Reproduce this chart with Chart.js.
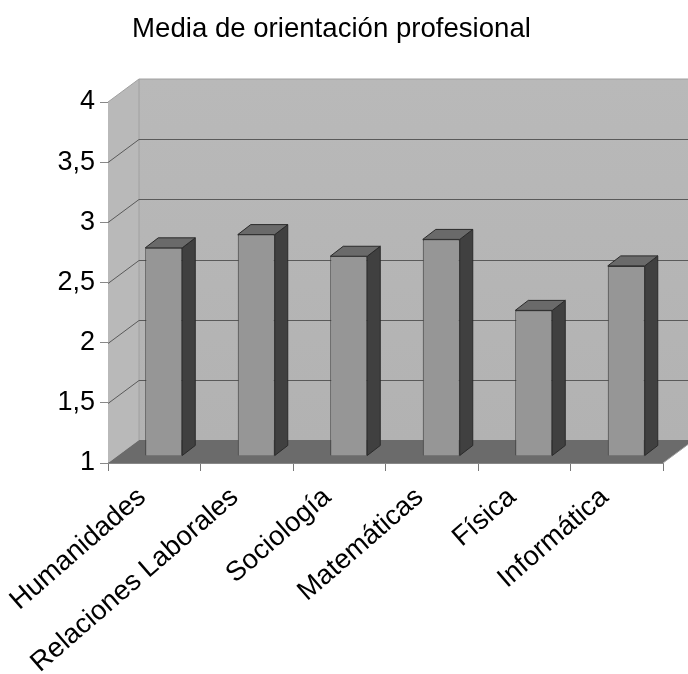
<!DOCTYPE html>
<html>
<head>
<meta charset="utf-8">
<style>html,body{margin:0;padding:0;background:#fff}canvas{display:block}</style>
<script src="https://cdn.jsdelivr.net/npm/chart.js@4"></script>
</head>
<body>
<canvas id="c" width="688" height="674"></canvas>
<script>
const titleText = "Media de orientación profesional";
const categories = ["Humanidades","Relaciones Laborales","Sociología","Matemáticas","Física","Informática"];
const values = [2.73,2.84,2.66,2.80,2.21,2.58];
const yTickLabels = {1:"1",1.5:"1,5",2:"2",2.5:"2,5",3:"3",3.5:"3,5",4:"4"};

const wallDepth = [31,-23], barShift = [9.5,-7], barDepth = [13,-10];
const poly = (ctx, pts, fill, stroke) => {
  ctx.beginPath();
  pts.forEach((p,i)=> i ? ctx.lineTo(p[0],p[1]) : ctx.moveTo(p[0],p[1]));
  ctx.closePath();
  if (fill) { ctx.fillStyle = fill; ctx.fill(); }
  if (stroke) { ctx.strokeStyle = stroke; ctx.lineWidth = 1; ctx.stroke(); }
};
const scene3d = {
  id: 'scene3d',
  beforeDatasetsDraw(chart) {
    const {ctx, chartArea:a, scales:{y}} = chart;
    const [dx,dy] = wallDepth;
    const L=a.left, R=a.right, T=a.top, B=a.bottom;
    ctx.save();
    const wallGrad = ctx.createLinearGradient(0,T+dy,0,B+dy);
    wallGrad.addColorStop(0,'#b9b9b9'); wallGrad.addColorStop(1,'#b2b2b2');
    poly(ctx, [[L+dx,T+dy],[R+dx,T+dy],[R+dx,B+dy],[L+dx,B+dy]], wallGrad);
    poly(ctx, [[L,T],[L+dx,T+dy],[L+dx,B+dy],[L,B]], '#b9b9b9');
    poly(ctx, [[L,B],[L+dx,B+dy],[R+dx,B+dy],[R,B]], '#6b6b6b');
    ctx.lineWidth = 1;
    ctx.strokeStyle = '#a0a0a0';
    ctx.beginPath();
    ctx.moveTo(L+dx,T+dy); ctx.lineTo(L+dx,B+dy);
    ctx.moveTo(L+dx,T+dy); ctx.lineTo(R+dx,T+dy);
    ctx.moveTo(L,T); ctx.lineTo(L+dx,T+dy);
    ctx.moveTo(R,B); ctx.lineTo(R+dx,B+dy);
    ctx.stroke();
    ctx.strokeStyle = '#5a5a5a';
    ctx.beginPath();
    y.ticks.forEach(t => {
      if (t.value <= y.min || t.value >= y.max) return;
      const p = Math.round(y.getPixelForValue(t.value)) + 0.5;
      ctx.moveTo(L,p); ctx.lineTo(L+dx,p+dy); ctx.lineTo(R+dx+20,p+dy);
    });
    ctx.stroke();
    ctx.restore();
    ctx.save();
    ctx.translate(barShift[0], barShift[1]);
  },
  afterDatasetsDraw(chart) {
    const {ctx} = chart;
    const [dx,dy] = barDepth;
    chart.getDatasetMeta(0).data.forEach(b => {
      const l=b.x-b.width/2, r=b.x+b.width/2, t=b.y, base=b.base;
      poly(ctx, [[r,t],[r+dx,t+dy],[r+dx,base+dy],[r,base]], '#404040', '#2a2a2a');
      poly(ctx, [[l,t],[l+dx,t+dy],[r+dx,t+dy],[r,t]], '#6a6a6a', '#2a2a2a');
    });
    ctx.restore();
  }
};
new Chart(document.getElementById('c'), {
  type: 'bar',
  data: { labels: categories, datasets: [{
    data: values, base: 1, backgroundColor: '#969696', borderColor: '#3a3a3a', borderWidth: 1,
    barPercentage: 0.4, categoryPercentage: 1, clip: false
  }]},
  plugins: [scene3d],
  options: {
    responsive: false, animation: false, devicePixelRatio: 1,
    layout: { padding: { right: 25, top: 0, left: 0, bottom: 0 } },
    plugins: {
      legend: { display: false }, tooltip: { enabled: false },
      title: { display: true, text: titleText, color: '#000',
        font: { family: '"Liberation Sans"', size: 27.6, weight: 'normal' },
        padding: { top: 13, bottom: 55.9 } }
    },
    scales: {
      x: {
        grid: { drawOnChartArea: false, offset: true, tickLength: 8, tickColor: '#777', lineWidth: 1 },
        border: { color: '#888' },
        ticks: { minRotation: 41, maxRotation: 41, color: '#000', padding: 10, labelOffset: -12,
          autoSkip: false, font: { family: '"Liberation Sans"', size: 27.5 } },
        afterFit(s) { s.height = 211; }
      },
      y: {
        min: 1, max: 4,
        grid: { drawOnChartArea: false, tickLength: 8, tickColor: '#888' },
        border: { color: '#888' },
        ticks: { stepSize: 0.5, color: '#000', padding: 5,
          callback: v => yTickLabels[v], font: { family: '"Liberation Sans"', size: 27 } },
        afterFit(s) { s.width = 108; }
      }
    }
  }
});
</script>
</body>
</html>
